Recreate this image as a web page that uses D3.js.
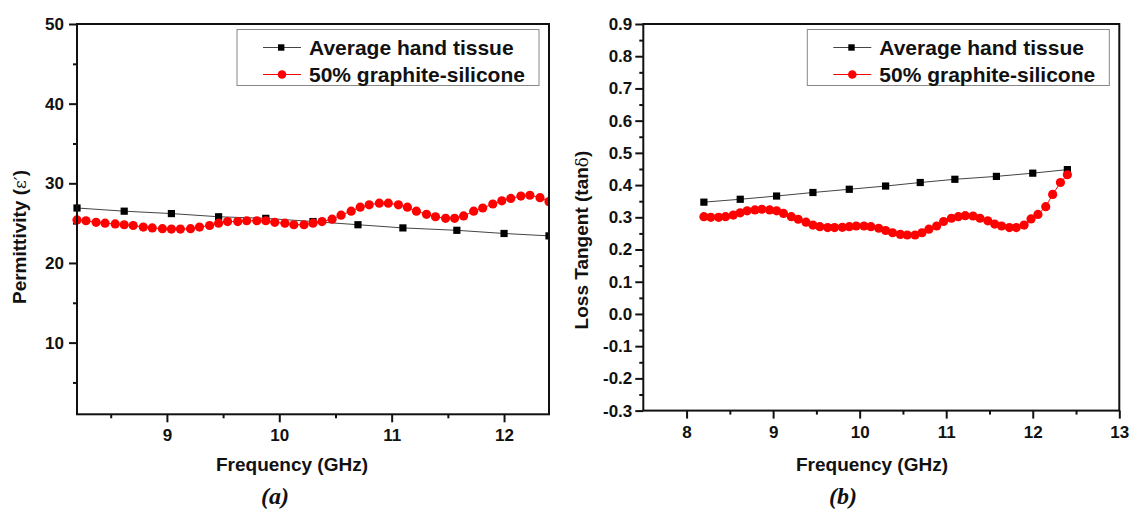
<!DOCTYPE html>
<html>
<head>
<meta charset="utf-8">
<script src="https://cdn.jsdelivr.net/npm/d3@7"></script>
<style>
body { margin: 0; background: #fff; }
text { font-family: "Liberation Sans", Arial, sans-serif; }
</style>
</head>
<body>
<div id="viz"></div>
<script>
// values
const tissueFreq = [8.2, 8.62, 9.04, 9.46, 9.88, 10.3, 10.7, 11.1, 11.58, 12.0, 12.4];
const tissuePerm = [26.9, 26.5, 26.2, 25.8, 25.6, 25.2, 24.8, 24.4, 24.1, 23.7, 23.4];
const tissueLoss = [0.347, 0.356, 0.366, 0.377, 0.387, 0.397, 0.408, 0.418, 0.427, 0.437, 0.448];

const sampleFreq = [8.20, 8.28, 8.37, 8.45, 8.54, 8.62, 8.70, 8.79, 8.87, 8.96,
    9.04, 9.12, 9.21, 9.29, 9.38, 9.46, 9.54, 9.63, 9.71, 9.80,
    9.88, 9.96, 10.05, 10.13, 10.22, 10.30, 10.38, 10.47, 10.55, 10.64,
    10.72, 10.80, 10.89, 10.97, 11.06, 11.14, 11.22, 11.31, 11.39, 11.48,
    11.56, 11.64, 11.73, 11.81, 11.90, 11.98, 12.06, 12.15, 12.23, 12.32, 12.40];
const samplePerm = [25.4, 25.3, 25.1, 25.0, 24.9, 24.8, 24.7, 24.5, 24.4, 24.3,
    24.25, 24.25, 24.3, 24.5, 24.7, 25.0, 25.2, 25.2, 25.3, 25.3,
    25.3, 25.1, 25.0, 24.8, 24.8, 25.0, 25.2, 25.5, 26.0, 26.5,
    27.0, 27.3, 27.5, 27.5, 27.3, 27.0, 26.5, 26.1, 25.8, 25.6,
    25.6, 25.9, 26.5, 26.9, 27.4, 27.8, 28.1, 28.4, 28.5, 28.2, 27.7];
const sampleLoss = [0.302, 0.300, 0.300, 0.302, 0.307, 0.314, 0.320, 0.323, 0.325, 0.323,
    0.320, 0.312, 0.302, 0.294, 0.285, 0.276, 0.271, 0.268, 0.268, 0.269,
    0.271, 0.273, 0.273, 0.271, 0.266, 0.259, 0.252, 0.247, 0.245, 0.245,
    0.252, 0.263, 0.273, 0.287, 0.297, 0.302, 0.305, 0.304, 0.297, 0.289,
    0.279, 0.273, 0.268, 0.268, 0.276, 0.295, 0.309, 0.333, 0.371, 0.408, 0.432];

const seriesNames = ['Average hand tissue', '50% graphite-silicone'];

// tick labels
const permXTicks = [9, 10, 11, 12];
const permXMinor = [8.5, 9.5, 10.5, 11.5];
const permYTicks = [10, 20, 30, 40, 50];
const permYMinor = [5, 15, 25, 35, 45];
const lossXTicks = [8, 9, 10, 11, 12, 13];
const lossXMinor = [8.5, 9.5, 10.5, 11.5, 12.5];
const lossYTicks = [-0.3, -0.2, -0.1, 0, 0.1, 0.2, 0.3, 0.4, 0.5, 0.6, 0.7, 0.8, 0.9];
const lossYMinor = [-0.25, -0.15, -0.05, 0.05, 0.15, 0.25, 0.35, 0.45, 0.55, 0.65, 0.75, 0.85];

const svg = d3.select('#viz')
    .append('svg')
    .attr('width', 1135)
    .attr('height', 514);

function styleAxis(sel) {
    sel.select('.domain').remove();
    sel.selectAll('line').attr('stroke', '#111').attr('stroke-width', 2);
    sel.selectAll('text')
        .attr('fill', '#111')
        .attr('font-size', 17)
        .attr('font-weight', 'bold')
        .style('font-family', '"Liberation Sans", Arial, sans-serif');
}

function drawPanel(p) {
    let w = p.right - p.left
    let h = p.bottom - p.top
    const g = svg.append('g').attr('transform', `translate(${p.left},${p.top})`);

    let xScale = d3.scaleLinear().domain(p.xDomain).range([0, w]);
    let yScale = d3.scaleLinear().domain(p.yDomain).range([h, 0]);

    // minor + major ticks, outside
    g.append('g').attr('transform', `translate(0,${h})`)
        .call(d3.axisBottom(xScale).tickValues(p.xMinor).tickSize(4).tickFormat(''))
        .call(styleAxis);
    g.append('g').attr('transform', `translate(0,${h})`)
        .call(d3.axisBottom(xScale).tickValues(p.xTicks).tickSize(8).tickPadding(7).tickFormat(p.fmtX))
        .call(styleAxis);
    g.append('g')
        .call(d3.axisLeft(yScale).tickValues(p.yMinor).tickSize(4).tickFormat(''))
        .call(styleAxis);
    g.append('g')
        .call(d3.axisLeft(yScale).tickValues(p.yTicks).tickSize(8).tickPadding(p.yPad).tickFormat(p.fmtY))
        .call(styleAxis);

    g.append('clipPath').attr('id', p.id + 'clip')
        .append('rect').attr('x', -8).attr('y', -8).attr('width', w + 8).attr('height', h + 16);

    const plot = g.append('g').attr('clip-path', `url(#${p.id}clip)`);
    let line = d3.line().x(d => xScale(d[0])).y(d => yScale(d[1]));

    let tissue = d3.zip(tissueFreq, p.tissue)
    let sample = d3.zip(sampleFreq, p.sample)

    plot.append('path').datum(tissue)
        .attr('d', line).attr('fill', 'none').attr('stroke', '#444').attr('stroke-width', 1);
    plot.append('g').selectAll('rect')
        .data(tissue)
        .join('rect')
        .attr('x', d => xScale(d[0]) - 3.6)
        .attr('y', d => yScale(d[1]) - 3.6)
        .attr('width', 7.2)
        .attr('height', 7.2)
        .attr('fill', '#000');

    plot.append('path').datum(sample)
        .attr('d', line).attr('fill', 'none').attr('stroke', '#ff0000').attr('stroke-width', 1);
    plot.append('g').selectAll('circle')
        .data(sample)
        .join('circle')
        .attr('cx', d => xScale(d[0]))
        .attr('cy', d => yScale(d[1]))
        .attr('r', 4.6)
        .attr('fill', '#ff0000');

    // frame
    g.append('rect')
        .attr('width', w).attr('height', h)
        .attr('fill', 'none').attr('stroke', '#111').attr('stroke-width', 2);

    // legend
    let lg = g.append('g').attr('transform', `translate(${w - 312},5.5)`);
    lg.append('rect')
        .attr('width', 302).attr('height', 56)
        .attr('fill', '#fff').attr('stroke', '#888').attr('stroke-width', 1);
    seriesNames.forEach(function(name, i) {
        let cy = 18 + i * 27;
        lg.append('line')
            .attr('x1', 26).attr('x2', 64).attr('y1', cy).attr('y2', cy)
            .attr('stroke', i == 0 ? '#444' : '#ff0000').attr('stroke-width', 1);
        if (i == 0) {
            lg.append('rect').attr('x', 41).attr('y', cy - 3.2).attr('width', 6.4).attr('height', 6.4).attr('fill', '#000');
        } else {
            lg.append('circle').attr('cx', 45).attr('cy', cy).attr('r', 4.3).attr('fill', '#ff0000');
        }
        lg.append('text')
            .attr('x', 72).attr('y', cy + 7)
            .attr('font-size', 21).attr('font-weight', 'bold').attr('fill', '#111')
            .text(name);
    });

    // axis titles
    svg.append('text')
        .attr('x', p.xTitleX).attr('y', 471)
        .attr('text-anchor', 'middle')
        .attr('font-size', 19).attr('font-weight', 'bold').attr('fill', '#111')
        .text('Frequency (GHz)');

    let yt = svg.append('text')
        .attr('transform', `translate(${p.yTitleX},${p.yTitleY}) rotate(-90)`)
        .attr('text-anchor', 'middle')
        .attr('font-size', 19).attr('font-weight', 'bold').attr('fill', '#111');
    yt.append('tspan').text(p.yTitle[0]);
    yt.append('tspan').attr('font-weight', 'normal').style('font-family', '"DejaVu Serif", serif').attr('font-size', 17).text(p.yTitle[1]);
    yt.append('tspan').text(')');

    svg.append('text')
        .attr('x', p.capX).attr('y', 504)
        .attr('text-anchor', 'middle')
        .attr('font-size', 24).attr('font-style', 'italic').attr('font-weight', 'bold').attr('fill', '#111')
        .style('font-family', '"Liberation Serif", "Times New Roman", serif')
        .text(p.caption);
}

drawPanel({
    id: 'perm', left: 77, right: 549, top: 24, bottom: 414.3,
    xDomain: [8.2, 12.4], yDomain: [1, 50],
    xTicks: permXTicks, xMinor: permXMinor, yTicks: permYTicks, yMinor: permYMinor,
    fmtX: d => d, fmtY: d => d, yPad: 5,
    tissue: tissuePerm, sample: samplePerm,
    xTitleX: 292, yTitleX: 26, yTitleY: 237, yTitle: ['Permittivity (', 'ε′'],
    capX: 275, caption: '(a)'
});

drawPanel({
    id: 'loss', left: 643.3, right: 1119.3, top: 24, bottom: 410.6,
    xDomain: [7.5, 13], yDomain: [-0.3, 0.9],
    xTicks: lossXTicks, xMinor: lossXMinor, yTicks: lossYTicks, yMinor: lossYMinor,
    fmtX: d => d, fmtY: d => d.toFixed(1), yPad: 3,
    tissue: tissueLoss, sample: sampleLoss,
    xTitleX: 872, yTitleX: 588, yTitleY: 240, yTitle: ['Loss Tangent (tan', 'δ'],
    capX: 843, caption: '(b)'
});
</script>
</body>
</html>
